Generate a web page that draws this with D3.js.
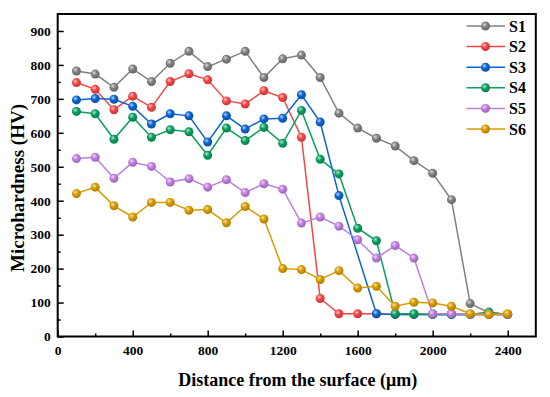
<!DOCTYPE html>
<html>
<head>
<meta charset="utf-8">
<script src="https://cdn.jsdelivr.net/npm/d3@7"></script>
<style>
  html, body { margin: 0; padding: 0; background: #fff; }
  svg text { font-family: "Liberation Serif", "Times New Roman", serif; font-weight: bold; fill: #000; }
</style>
</head>
<body>
<svg id="chart" width="550" height="397"></svg>
<script>
// ---- data ----
const distances = [100,200,300,400,500,600,700,800,900,1000,1100,1200,1300,1400,1500,1600,1700,1800,1900,2000,2100,2200,2300,2400];
const seriesNames = ["S1","S2","S3","S4","S5","S6"];
const S1 = [782,773,734,788,751,805,840,795,817,840,763,818,829,763,658,614,584,561,518,481,403,97,70,65];
const S2 = [748,728,668,708,675,751,774,756,694,685,724,704,587,112,67,67,67,65,65,65,65,65,65,65];
const S3 = [697,701,699,678,626,656,650,573,650,611,641,643,712,632,415,null,67,65,65,65,65,65,65,65];
const S4 = [663,656,581,646,587,609,603,534,614,577,616,569,666,522,479,319,282,67,67,65,65,65,72,65];
const S5 = [524,528,466,513,501,455,465,440,462,424,450,434,334,352,325,285,231,268,231,67,67,65,65,65];
const S6 = [421,440,385,352,395,395,372,374,335,383,346,200,197,168,194,143,148,89,101,99,89,67,65,67];
const xTickValues = [0,400,800,1200,1600,2000,2400];
const yTickValues = [0,100,200,300,400,500,600,700,800,900];
const colors = ["#808080","#f54545","#0a64d2","#0a9e60","#c07ee0","#d99c00"];

const seriesValues = [S1,S2,S3,S4,S5,S6];

const svg = d3.select("#chart");
const mLeft = 57.7, mRight = 535.8, mTop = 14, mBottom = 336.5;

const x = d3.scaleLinear().domain([0, 2550]).range([mLeft, mRight]);
const y = d3.scaleLinear().domain([0, 950]).range([mBottom, mTop]);

// gradients for sphere-like markers
const defs = svg.append("defs");
colors.forEach((c, i) => {
  const g = defs.append("radialGradient").attr("id", "grad" + i)
    .attr("cx", "38%").attr("cy", "35%").attr("r", "65%");
  g.append("stop").attr("offset", "0%").attr("stop-color", d3.interpolateRgb(c, "#fff")(0.7));
  g.append("stop").attr("offset", "45%").attr("stop-color", c);
  g.append("stop").attr("offset", "100%").attr("stop-color", d3.color(c).darker(0.6));
});

// axes
const xAxis = d3.axisBottom(x).tickValues(xTickValues).tickSize(-6).tickPadding(9).tickFormat(d3.format("d"));
const xMinor = d3.axisBottom(x).tickValues(d3.range(200, 2550, 400)).tickSize(-3).tickFormat("");
const yAxis = d3.axisLeft(y).tickValues(yTickValues).tickSize(-6).tickPadding(7).tickFormat(d3.format("d"));
const yMinor = d3.axisLeft(y).tickValues(d3.range(50, 950, 100)).tickSize(-3).tickFormat("");

function styleAxis(g) {
  g.select(".domain").remove();
  g.selectAll(".tick line").attr("stroke", "#000").attr("stroke-width", 1.5);
  g.selectAll(".tick text").style("font-size", "13.5px");
}

svg.append("g").attr("transform", `translate(0,${mBottom})`).call(xMinor).call(styleAxis);
svg.append("g").attr("transform", `translate(0,${mBottom})`).call(xAxis).call(styleAxis);
svg.append("g").attr("transform", `translate(${mLeft},0)`).call(yMinor).call(styleAxis);
svg.append("g").attr("transform", `translate(${mLeft},0)`).call(yAxis).call(styleAxis);

// frame
svg.append("rect").attr("x", mLeft).attr("y", mTop).attr("width", mRight - mLeft).attr("height", mBottom - mTop)
  .attr("fill", "none").attr("stroke", "#000").attr("stroke-width", 2);

// series
const line = d3.line().x(d => x(d.x)).y(d => y(d.v));
seriesValues.forEach((vals, i) => {
  const pts = distances.map((d, j) => ({x: d, v: vals[j]})).filter(p => p.v !== null);
  svg.append("path").datum(pts).attr("d", line)
    .attr("fill", "none").attr("stroke", colors[i]).attr("stroke-width", 1.5);
  svg.append("g").selectAll("circle").data(pts).join("circle")
    .attr("cx", d => x(d.x)).attr("cy", d => y(d.v)).attr("r", 4.5)
    .attr("fill", `url(#grad${i})`);
});

// legend
const legend = svg.append("g");
seriesNames.forEach((name, i) => {
  const ly = 26 + i * 20.6;
  legend.append("line").attr("x1", 466.5).attr("x2", 505).attr("y1", ly).attr("y2", ly)
    .attr("stroke", colors[i]).attr("stroke-width", 1.5);
  legend.append("circle").attr("cx", 485.5).attr("cy", ly).attr("r", 4.5).attr("fill", `url(#grad${i})`);
  legend.append("text").attr("x", 509).attr("y", ly + 5.5).style("font-size", "16px").text(name);
});

// axis titles
svg.append("text").attr("x", (mLeft + mRight) / 2 + 1).attr("y", 386).attr("text-anchor", "middle")
  .style("font-size", "18px").text("Distance from the surface (\u03bcm)");
svg.append("text").attr("transform", "translate(24,188) rotate(-90)").attr("text-anchor", "middle")
  .style("font-size", "19px").text("Microhardness (HV)");
</script>
</body>
</html>
